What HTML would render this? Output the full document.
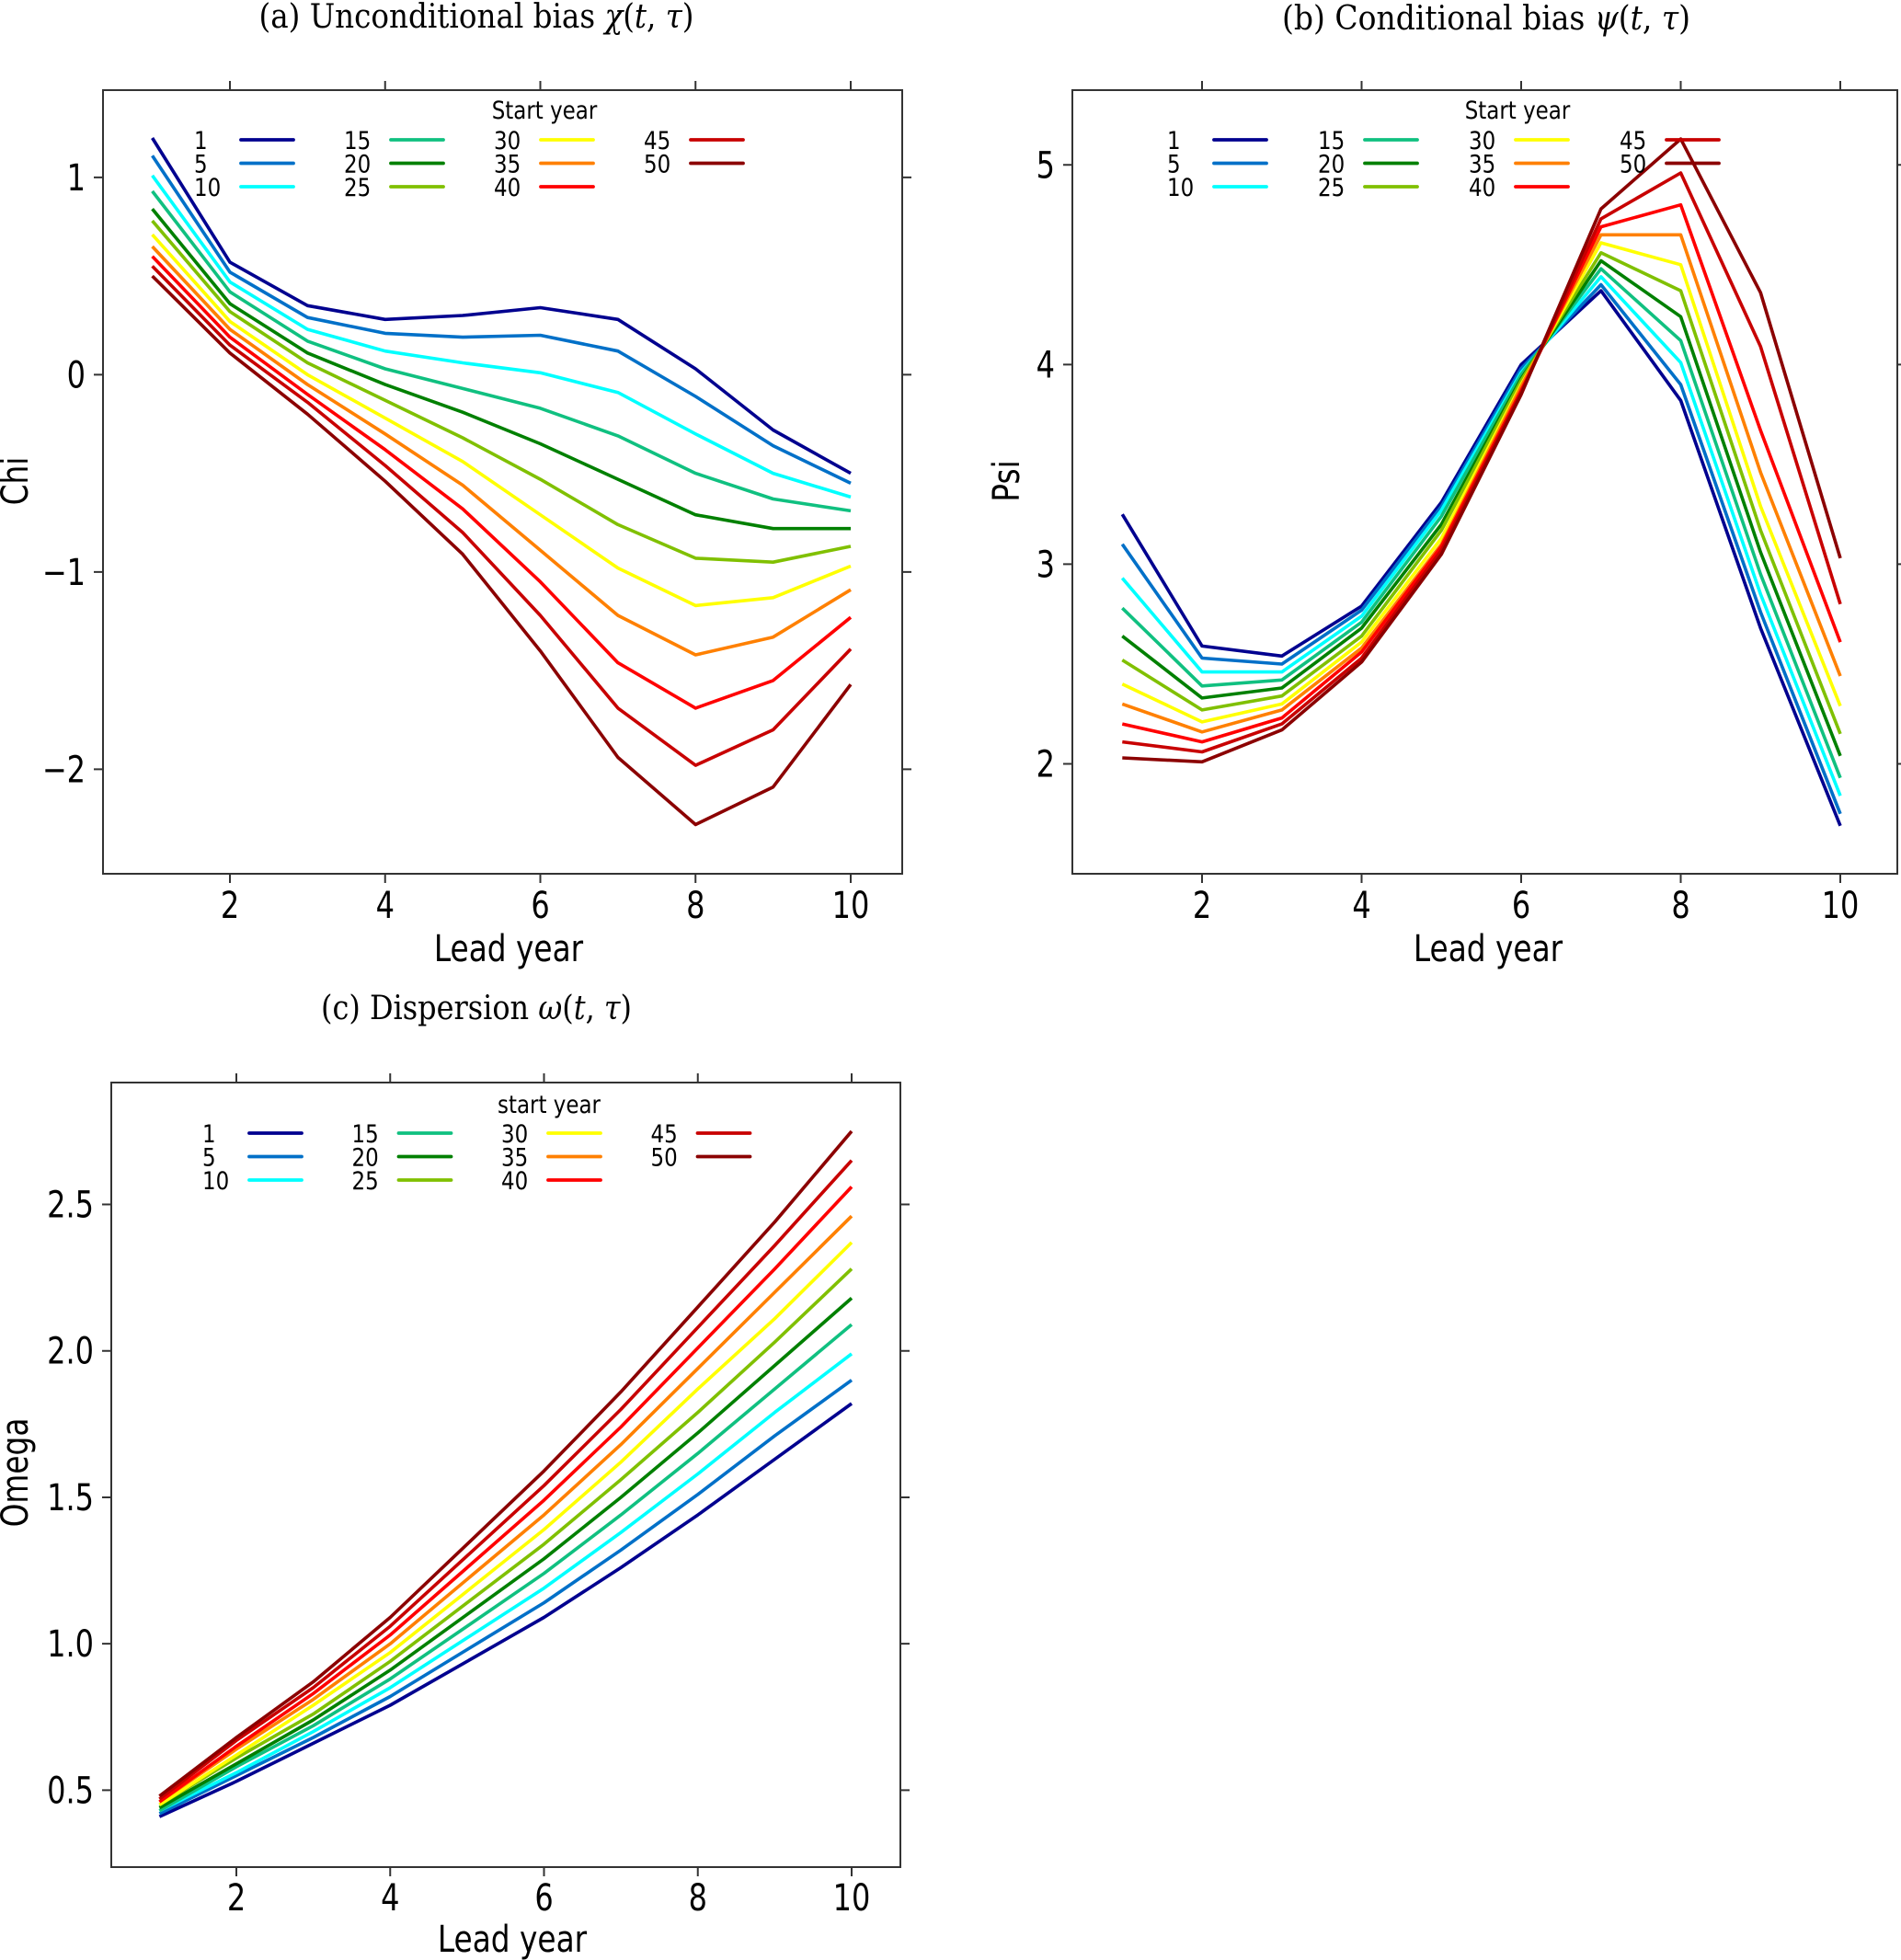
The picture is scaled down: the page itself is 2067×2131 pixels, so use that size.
<!DOCTYPE html>
<html><head><meta charset="utf-8">
<style>
html,body{margin:0;padding:0;background:#fff;}
svg{display:block;}
text{font-family:"DejaVu Sans","Liberation Sans",sans-serif;fill:#000;}
.serif{font-family:"DejaVu Serif","Liberation Serif",serif;}
</style></head>
<body>
<svg id="fig" width="2067" height="2131" viewBox="0 0 2067 2131" xmlns="http://www.w3.org/2000/svg"></svg>
<script>
const leadYears = [1,2,3,4,5,6,7,8,9,10];
const startYears = [1,5,10,15,20,25,30,35,40,45,50];
const seriesColors = ["#00008f","#0070c8","#00ffff","#10c080","#008000","#80c000","#ffff00","#ff8000","#ff0000","#c80000","#8b0000"];
const xTicks = [2,4,6,8,10];
const chiTicks = [-2,-1,0,1];
const psiTicks = [2,3,4,5];
const omegaTicks = [0.5,1.0,1.5,2.0,2.5];
const omegaTickLabels = ["0.5","1.0","1.5","2.0","2.5"];

const chi1  = [1.20,0.57,0.35,0.28,0.30,0.34,0.28,0.03,-0.28,-0.50];
const chi5  = [1.11,0.52,0.29,0.21,0.19,0.20,0.12,-0.11,-0.36,-0.55];
const chi10 = [1.01,0.47,0.23,0.12,0.06,0.01,-0.09,-0.30,-0.50,-0.62];
const chi15 = [0.93,0.42,0.17,0.03,-0.07,-0.17,-0.31,-0.50,-0.63,-0.69];
const chi20 = [0.84,0.36,0.11,-0.05,-0.19,-0.35,-0.53,-0.71,-0.78,-0.78];
const chi25 = [0.78,0.32,0.06,-0.13,-0.32,-0.53,-0.76,-0.93,-0.95,-0.87];
const chi30 = [0.71,0.27,0.00,-0.22,-0.44,-0.71,-0.98,-1.17,-1.13,-0.97];
const chi35 = [0.65,0.23,-0.05,-0.30,-0.56,-0.89,-1.22,-1.42,-1.33,-1.09];
const chi40 = [0.60,0.19,-0.10,-0.38,-0.68,-1.05,-1.46,-1.69,-1.55,-1.23];
const chi45 = [0.55,0.15,-0.14,-0.46,-0.80,-1.22,-1.69,-1.98,-1.80,-1.39];
const chi50 = [0.50,0.11,-0.20,-0.54,-0.91,-1.40,-1.94,-2.28,-2.09,-1.57];

const psi1  = [3.25,2.59,2.54,2.79,3.31,4.00,4.37,3.82,2.68,1.69];
const psi5  = [3.10,2.53,2.50,2.77,3.29,3.98,4.40,3.90,2.76,1.75];
const psi10 = [2.93,2.46,2.46,2.74,3.27,3.96,4.44,4.01,2.85,1.84];
const psi15 = [2.78,2.39,2.42,2.71,3.24,3.95,4.48,4.12,2.95,1.93];
const psi20 = [2.64,2.33,2.38,2.68,3.20,3.93,4.52,4.24,3.06,2.04];
const psi25 = [2.52,2.27,2.34,2.64,3.17,3.92,4.56,4.37,3.17,2.15];
const psi30 = [2.40,2.21,2.30,2.61,3.13,3.90,4.61,4.50,3.29,2.29];
const psi35 = [2.30,2.16,2.27,2.58,3.10,3.89,4.65,4.65,3.46,2.44];
const psi40 = [2.20,2.11,2.23,2.56,3.09,3.87,4.69,4.80,3.67,2.61];
const psi45 = [2.11,2.06,2.20,2.53,3.07,3.86,4.73,4.96,4.09,2.80];
const psi50 = [2.03,2.01,2.17,2.51,3.05,3.85,4.78,5.13,4.36,3.03];

const om1  = [0.41,0.53,0.66,0.79,0.94,1.09,1.26,1.44,1.63,1.82];
const om5  = [0.42,0.55,0.68,0.82,0.98,1.14,1.32,1.51,1.71,1.90];
const om10 = [0.43,0.56,0.70,0.85,1.02,1.19,1.38,1.58,1.79,1.99];
const om15 = [0.43,0.58,0.72,0.88,1.06,1.24,1.44,1.65,1.87,2.09];
const om20 = [0.44,0.59,0.74,0.91,1.10,1.29,1.50,1.72,1.95,2.18];
const om25 = [0.45,0.61,0.76,0.94,1.14,1.34,1.56,1.79,2.03,2.28];
const om30 = [0.45,0.62,0.79,0.97,1.18,1.39,1.62,1.87,2.11,2.37];
const om35 = [0.46,0.64,0.81,1.00,1.22,1.44,1.68,1.94,2.20,2.46];
const om40 = [0.46,0.65,0.83,1.03,1.26,1.49,1.74,2.01,2.28,2.56];
const om45 = [0.47,0.67,0.85,1.06,1.30,1.54,1.80,2.08,2.36,2.65];
const om50 = [0.48,0.68,0.87,1.09,1.34,1.59,1.86,2.15,2.44,2.75];

const chiSeries = [chi1,chi5,chi10,chi15,chi20,chi25,chi30,chi35,chi40,chi45,chi50];
const psiSeries = [psi1,psi5,psi10,psi15,psi20,psi25,psi30,psi35,psi40,psi45,psi50];
const omSeries = [om1,om5,om10,om15,om20,om25,om30,om35,om40,om45,om50];

const NS = "http://www.w3.org/2000/svg";
const svg = document.getElementById("fig");
function mk(tag, attrs, parent){
  const e = document.createElementNS(NS, tag);
  for (const k in attrs) e.setAttribute(k, attrs[k]);
  (parent||svg).appendChild(e);
  return e;
}
function txt(parent, x, y, s, size, anchor, sx, cls){
  const t = mk("text", {transform:`translate(${x},${y}) scale(${sx},1)`, "font-size":size, "text-anchor":anchor}, parent);
  if (cls) t.setAttribute("class", cls);
  t.textContent = s;
  return t;
}

function panel(cfg){
  const g = mk("g", {});
  
  
  const {L,R,T,B} = cfg.box;
  const xs = v => cfg.xa[0] + (v-2)*(cfg.xa[1]-cfg.xa[0])/8;
  const ys = v => cfg.ya[1] + (v-cfg.ya[0])*(cfg.ya[3]-cfg.ya[1])/(cfg.ya[2]-cfg.ya[0]);
  const tt = mk("text", {x:cfg.title.x, y:cfg.title.y, "font-size":36, "text-anchor":"middle", "class":"serif", textLength:cfg.title.w, lengthAdjust:"spacingAndGlyphs"}, g);
  
  
  tt.innerHTML = cfg.title.html;
  const box = mk("rect", {x:L, y:T, width:R-L, height:B-T, fill:"none", stroke:"#333", "stroke-width":2}, g);
  
  
  xTicks.forEach(v=>{
    const x = xs(v);
    const tk = mk("path", {d:`M${x},${T}V${T-10}M${x},${B}V${B+10}`, stroke:"#333", "stroke-width":2}, g);
    
    
    const lb = txt(g, x, cfg.xLabelY, String(v), 40, "middle", 0.8);
    
    
  });
  cfg.yTicks.forEach((v,i)=>{
    const y = ys(v);
    const tk = mk("path", {d:`M${L},${y}H${L-10}M${R},${y}H${R+10}`, stroke:"#333", "stroke-width":2}, g);
    
    
    const s = cfg.yLabels ? cfg.yLabels[i] : (v<0 ? "\u2212"+Math.abs(v) : String(v));
    const lb = txt(g, L-19, y+14, s, 40, "end", 0.8);
    
    
  });
  const xt = txt(g, cfg.xTitle.x, cfg.xTitle.y, "Lead year", 40, "middle", 0.82);
  
  
  const yt = mk("text", {transform:`translate(${cfg.yTitle.x},${cfg.yTitle.y}) rotate(-90) scale(0.82,1)`, "font-size":40, "text-anchor":"middle"}, g);
  
  
  yt.textContent = cfg.yTitle.s;
  cfg.series.forEach((arr, i)=>{
    const d = arr.map((v,j)=>(j?"L":"M")+xs(leadYears[j]).toFixed(1)+","+ys(v).toFixed(1)).join("");
    const p = mk("path", {d, fill:"none", stroke:seriesColors[i], "stroke-width":3.6, "stroke-linejoin":"round"}, g);
    
    
  });
  const lg = mk("g", {}, g);
  
  
  const lt = txt(lg, cfg.leg.titleX, cfg.leg.titleY, cfg.leg.title, 27, "middle", 0.85);
  
  
  startYears.forEach((sy, i)=>{
    const col = Math.floor(i/3), row = i%3;
    const lx = cfg.leg.x0 + col*cfg.leg.dx;
    const ly = cfg.leg.y0 + row*cfg.leg.dy;
    const e = mk("g", {}, lg);
    
    
    txt(e, lx-51, ly+10, String(sy), 27, "start", 0.85);
    mk("line", {x1:lx, x2:lx+57, y1:ly, y2:ly, stroke:seriesColors[i], "stroke-width":3.8, "stroke-linecap":"round"}, e);
  });
}

panel({name:"panel-a-chi", box:{L:112,R:981,T:98,B:950}, xa:[250,925], ya:[0,407.4,1,192.9],
  yTicks:chiTicks, xLabelY:998,
  title:{x:518,y:30,w:473,html:'(a) Unconditional bias <tspan font-style="italic">χ</tspan>(<tspan font-style="italic">t</tspan>, <tspan font-style="italic">τ</tspan>)'},
  xTitle:{x:553,y:1045}, yTitle:{x:30,y:523,s:"Chi"},
  series:chiSeries,
  leg:{title:"Start year",titleX:592,titleY:129,x0:262,dx:163,y0:152,dy:25.5}});

panel({name:"panel-b-psi", box:{L:1166,R:2063,T:98,B:950}, xa:[1307,2001], ya:[2,830.5,5,179.3],
  yTicks:psiTicks, xLabelY:998,
  title:{x:1616,y:32,w:444,html:'(b) Conditional bias <tspan font-style="italic">ψ</tspan>(<tspan font-style="italic">t</tspan>, <tspan font-style="italic">τ</tspan>)'},
  xTitle:{x:1618,y:1045}, yTitle:{x:1108,y:523,s:"Psi"},
  series:psiSeries,
  leg:{title:"Start year",titleX:1650,titleY:129,x0:1320,dx:164,y0:152,dy:25.5}});

panel({name:"panel-c-omega", box:{L:121,R:979,T:1177,B:2030}, xa:[257,926], ya:[0.5,1946.4,2.5,1309.5],
  yTicks:omegaTicks, yLabels:omegaTickLabels, xLabelY:2077,
  title:{x:518,y:1108,w:338,html:'(c) Dispersion <tspan font-style="italic">ω</tspan>(<tspan font-style="italic">t</tspan>, <tspan font-style="italic">τ</tspan>)'},
  xTitle:{x:557,y:2122}, yTitle:{x:30,y:1601,s:"Omega"},
  series:omSeries,
  leg:{title:"start year",titleX:597,titleY:1210,x0:271,dx:162.5,y0:1232,dy:25.5}});
</script>
</body></html>
